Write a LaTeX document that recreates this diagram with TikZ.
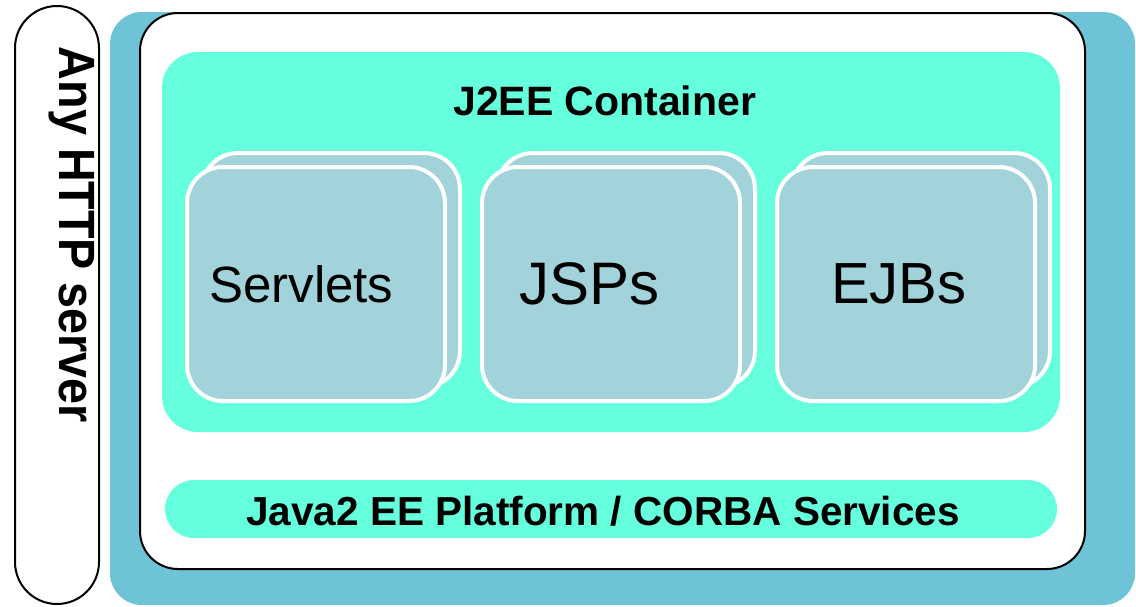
\documentclass[tikz,border=0pt]{standalone}
\usepackage{fontspec}
\setmainfont{Liberation Sans}
\definecolor{bgblue}{HTML}{6EC3D6}
\definecolor{aqua}{HTML}{66FFDE}
\definecolor{boxblue}{HTML}{A2D3DA}
\tikzset{
  comp/.style={fill=boxblue, draw=white, line width=4pt, rounded corners=36pt},
  lbl/.style={inner sep=0pt, anchor=base west, text=black},
  bold/.style={font=\bfseries\fontsize{41}{48}\selectfont}
}
\begin{document}
\begin{tikzpicture}[x=1pt,y=-1pt]
\useasboundingbox (0,0) rectangle (1136,606);
\begin{scope}
\clip (0,0) rectangle (1136,606);
% blue background
\fill[bgblue, rounded corners=32pt] (110,12) rectangle (1135,605);
\end{scope}
% left pill
\draw[fill=white, line width=2pt, rounded corners=42pt] (15,6) rectangle (99,604);
\node[rotate=-90, inner sep=0pt, font=\bfseries\fontsize{51}{60}\selectfont] (http) at (72,235) {\scalebox{0.915}[1]{Any HTTP server}};
% white server box
\draw[fill=white, line width=2pt, rounded corners=38pt] (140,13) rectangle (1085,569);
% container
\fill[aqua, rounded corners=36pt] (162,52) rectangle (1060,432);
\node[lbl, bold] (j2ee) at (453,115) {J2EE Container};
% components (back then front)
\foreach \x in {187,482,777}{
  \draw[comp] (\x+15,153) rectangle (\x+273,387);
  \draw[comp] (\x,167) rectangle (\x+258,401);
}
\node[lbl, font=\fontsize{51}{60}\selectfont] (servlets) at (209,302) {Servlets};
\node[lbl, font=\fontsize{60}{70}\selectfont] (jsps) at (519,304) {JSPs};
\node[lbl, font=\fontsize{58}{68}\selectfont] (ejbs) at (831,303) {EJBs};
% platform bar
\fill[aqua, rounded corners=29pt] (165,480) rectangle (1057,538);
\node[lbl, font=\bfseries\fontsize{40.5}{48}\selectfont] (platform) at (246,525) {Java2 EE Platform / CORBA Services};
\end{tikzpicture}
\end{document}
